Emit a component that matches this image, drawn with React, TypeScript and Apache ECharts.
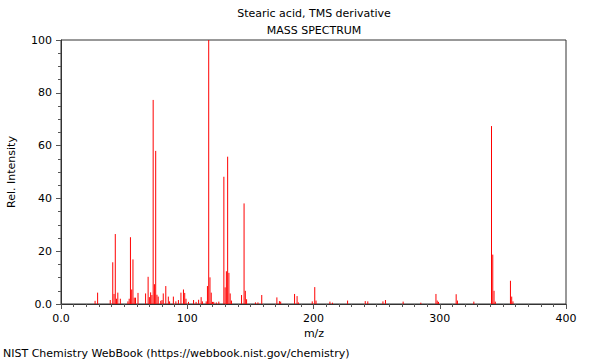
import React, { useEffect, useRef } from "react";
import * as echarts from "echarts";

const titleText = "Stearic acid, TMS derivative";
const subtitleText = "MASS SPECTRUM";
const footerText = "NIST Chemistry WebBook (https://webbook.nist.gov/chemistry)";
const xAxisName = "m/z";
const yAxisName = "Rel. Intensity";

const mzValues = [
  27, 29, 39, 41, 42, 43, 44, 45, 47, 53, 54, 55, 56, 57, 58, 59, 61, 67, 69, 70,
  71, 72, 73, 74, 75, 76, 77, 79, 80, 81, 83, 85, 86, 89, 91, 93, 95, 97, 98, 99,
  101, 105, 107, 109, 111, 112, 115, 116, 117, 118, 119, 120, 121, 123, 125, 129, 130, 131, 132, 133,
  134, 135, 143, 145, 146, 147, 154, 156, 159, 171, 173, 174, 185, 187, 188, 199, 201, 202, 213, 215,
  227, 241, 243, 255, 257, 271, 285, 297, 298, 299, 313, 314, 327, 341, 342, 343, 344, 356, 357, 358,
];
const intensities = [
  1.2, 4.3, 1.5, 15.8, 3.8, 26.5, 2.0, 4.3, 2.0, 1.0, 2.0, 25.3, 5.5, 16.9, 2.4, 2.4, 4.2, 4.0, 10.3, 2.6,
  4.4, 3.4, 77.3, 7.5, 58.0, 3.5, 2.8, 1.2, 1.5, 4.0, 6.8, 2.8, 1.0, 2.8, 1.0, 1.5, 4.3, 5.5, 4.2, 2.0,
  0.8, 1.5, 0.8, 1.6, 2.6, 1.0, 1.0, 6.8, 100, 10.1, 4.3, 0.8, 0.8, 0.6, 0.9, 48.2, 6.3, 12.4, 55.8, 11.8,
  4.0, 1.3, 3.4, 38.1, 5.0, 1.8, 0.6, 0.6, 3.4, 2.5, 1.1, 0.9, 3.8, 3.0, 0.6, 1.0, 6.4, 1.3, 0.9, 0.5,
  1.3, 1.1, 1.0, 1.0, 1.5, 0.9, 0.5, 3.8, 1.3, 0.8, 3.7, 1.3, 0.9, 67.4, 18.7, 5.0, 0.9, 8.8, 2.8, 1.0,
];

const xTicks = [0, 100, 200, 300, 400];
const yTicks = [0, 20, 40, 60, 80, 100];

export default function App() {
  const ref = useRef<HTMLDivElement>(null);
  useEffect(() => {
    document.body.style.margin = "0";
    const chart = echarts.init(ref.current!, null, { renderer: "svg" });
    const data = mzValues.map((m, i) => [m, intensities[i]]);
    const font = "DejaVu Sans";
    chart.setOption({
      animation: false,
      grid: {
        left: 61,
        right: 34,
        top: 40,
        bottom: 56,
        show: true,
        borderColor: "#333",
        borderWidth: 1,
      },
      xAxis: {
        type: "value",
        min: xTicks[0],
        max: xTicks[xTicks.length - 1],
        interval: 100,
        splitLine: { show: false },
        axisLine: { show: true, lineStyle: { color: "#333", width: 1 } },
        axisTick: { show: true, length: 5, lineStyle: { color: "#555" } },
        minorTick: { show: true, splitNumber: 10, length: 3, lineStyle: { color: "#555" } },
        axisLabel: {
          margin: 9,
          fontFamily: font,
          fontSize: 11,
          color: "#000",
          formatter: (v: number) => (v === 0 ? "0.0" : String(v)),
        },
      },
      yAxis: {
        type: "value",
        min: yTicks[0],
        max: yTicks[yTicks.length - 1],
        interval: 20,
        splitLine: { show: false },
        axisLine: { show: true, lineStyle: { color: "#333", width: 1 } },
        axisTick: { show: true, length: 5, lineStyle: { color: "#555" } },
        minorTick: { show: true, splitNumber: 4, length: 3, lineStyle: { color: "#555" } },
        axisLabel: {
          margin: 9,
          fontFamily: font,
          fontSize: 11,
          color: "#000",
          formatter: (v: number) => (v === 0 ? "0.0" : String(v)),
        },
      },
      series: [
        {
          type: "custom",
          data,
          renderItem: (params: any, api: any) => {
            const p0 = api.coord([api.value(0), 0]);
            const p1 = api.coord([api.value(0), api.value(1)]);
            return {
              type: "line",
              shape: { x1: p0[0], y1: p0[1], x2: p1[0], y2: p1[1] },
              style: { stroke: "#ff0000", lineWidth: 1 },
            };
          },
        },
      ],
      graphic: [
        {
          type: "text",
          x: 314,
          y: 13,
          style: { text: titleText, font: `11px ${font}`, fill: "#000", textAlign: "center", textVerticalAlign: "middle" },
        },
        {
          type: "text",
          x: 314,
          y: 30,
          style: { text: subtitleText, font: `11px ${font}`, fill: "#000", textAlign: "center", textVerticalAlign: "middle" },
        },
        {
          type: "text",
          x: 314,
          y: 333,
          style: { text: xAxisName, font: `11px ${font}`, fill: "#000", textAlign: "center", textVerticalAlign: "middle" },
        },
        {
          type: "text",
          x: 11,
          y: 172,
          rotation: Math.PI / 2,
          style: { text: yAxisName, font: `11px ${font}`, fill: "#000", textAlign: "center", textVerticalAlign: "middle" },
        },
        {
          type: "text",
          x: 3,
          y: 353,
          style: { text: footerText, font: `11px ${font}`, fill: "#000", textAlign: "left", textVerticalAlign: "middle" },
        },
      ],
    });
    return () => chart.dispose();
  }, []);
  return <div ref={ref} style={{ width: 600, height: 360 }} />;
}
